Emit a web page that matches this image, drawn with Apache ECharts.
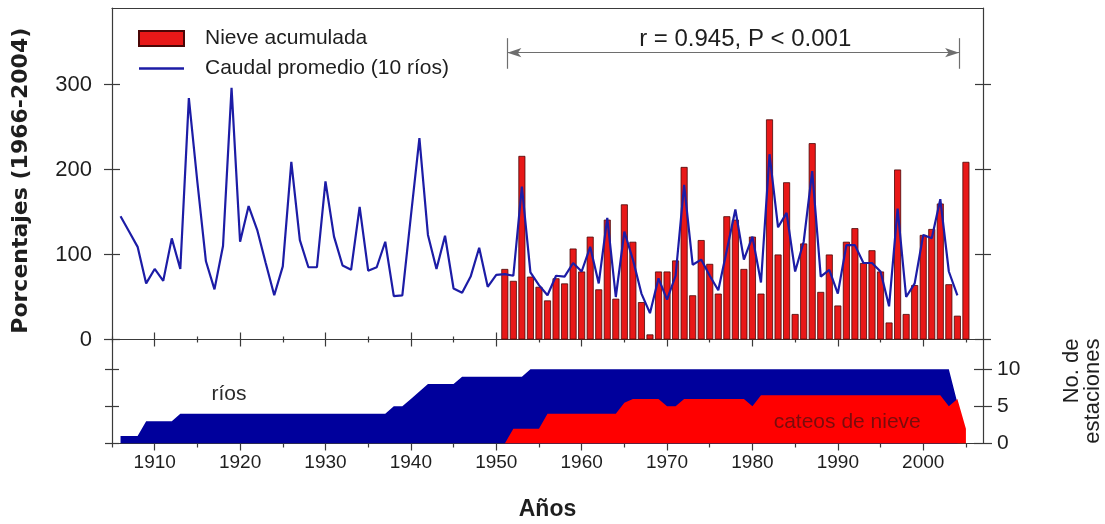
<!DOCTYPE html>
<html>
<head>
<meta charset="utf-8">
<script src="https://cdn.jsdelivr.net/npm/echarts@6/dist/echarts.min.js"></script>
<style>
  html, body { margin: 0; padding: 0; background: #ffffff; }
  #chart { width: 1105px; height: 524px; }
</style>
</head>
<body>
<div id="chart"></div>
<script>
// Caudal promedio (10 ríos), % of 1966-2004 mean, one value per year from 1906
const caudalStartYear = 1906;
const caudal = [
  145, 127, 109, 66, 83, 69, 119, 83, 284, 185,
  92, 59, 110, 296, 115, 157, 129, 90, 52, 86,
  209, 117, 85, 85, 186, 121, 87, 82, 156, 81,
  85, 115, 51, 52, 145, 237, 123, 83, 122, 60,
  55, 74, 108, 62, 76, 77, 75, 180, 79, 64,
  52, 75, 74, 90, 80, 109, 66, 143, 50, 127,
  94, 54, 31, 72, 47, 75, 182, 88, 94, 75,
  58, 105, 153, 94, 121, 67, 218, 132, 149, 80,
  115, 198, 74, 82, 54, 111, 111, 90, 90, 80,
  39, 154, 50, 66, 123, 119, 165, 80, 52
];

// Nieve acumulada, % of 1966-2004 mean, one value per year from 1951
const nieveStartYear = 1951;
const nieve = [
  83, 69, 216, 74, 62, 46, 72, 66, 107, 80,
  121, 59, 141, 48, 159, 115, 44, 6, 80, 80,
  93, 203, 52, 117, 89, 54, 145, 141, 83, 121,
  54, 259, 100, 185, 30, 113, 231, 56, 100, 40,
  115, 131, 90, 105, 80, 20, 200, 30, 64, 123,
  130, 160, 65, 28, 209
];

// Number of stations in operation per year
const riosStartYear = 1906;
const riosStations = [
  1, 1, 1, 3, 3, 3, 3, 4, 4, 4,
  4, 4, 4, 4, 4, 4, 4, 4, 4, 4,
  4, 4, 4, 4, 4, 4, 4, 4, 4, 4,
  4, 4, 5, 5, 6, 7, 8, 8, 8, 8,
  9, 9, 9, 9, 9, 9, 9, 9, 10, 10,
  10, 10, 10, 10, 10, 10, 10, 10, 10, 10,
  10, 10, 10, 10, 10, 10, 10, 10, 10, 10,
  10, 10, 10, 10, 10, 10, 10, 10, 10, 10,
  10, 10, 10, 10, 10, 10, 10, 10, 10, 10,
  10, 10, 10, 10, 10, 10, 10, 10, 5.5
];
const cateosStartYear = 1951;
const cateosStations = [
  0, 2, 2, 2, 2, 4, 4, 4, 4, 4,
  4, 4, 4, 4, 5.5, 6, 6, 6, 6, 5,
  5, 6, 6, 6, 6, 6, 6, 6, 6, 5,
  6.5, 6.5, 6.5, 6.5, 6.5, 6.5, 6.5, 6.5, 6.5, 6.5,
  6.5, 6.5, 6.5, 6.5, 6.5, 6.5, 6.5, 6.5, 6.5, 6.5,
  6.5, 6.5, 5, 6, 2
];

// Axis ticks and labels
const decadeTicks = [1910, 1920, 1930, 1940, 1950, 1960, 1970, 1980, 1990, 2000];
const halfDecadeTicks = [1905, 1915, 1925, 1935, 1945, 1955, 1965, 1975, 1985, 1995, 2005];
const pctTicks = [0, 100, 200, 300];
const stationTicks = [0, 5, 10];

const yearMin = 1905, yearMax = 2007;
const pctMax = 390, stationMax = 14;

const correlationText = 'r = 0.945, P < 0.001';
const corrSpan = [1951.3, 2004.2];
const corrLevel = 337.5;

const toPairs = (start, arr) => arr.map((v, i) => [start + i, v]);

const textColor = '#1e1e1e';
const axisColor = '#3a3a3a';
const font = 'Liberation Sans, Arial, sans-serif';

function xAxisBase(gridIndex, extra) {
  return Object.assign({
    type: 'value', gridIndex, min: yearMin, max: yearMax,
    splitLine: { show: false },
    axisLine: { show: false, lineStyle: { color: axisColor, width: 1.2 } },
    axisTick: { show: false },
    axisLabel: { show: false }
  }, extra);
}
function yAxisBase(gridIndex, max, position, extra) {
  return Object.assign({
    type: 'value', gridIndex, min: 0, max, position,
    splitLine: { show: false },
    axisLine: { show: false, lineStyle: { color: axisColor, width: 1.2 } },
    axisTick: { show: false },
    axisLabel: { show: false }
  }, extra);
}
const tick = (values, inside, length) => ({
  show: true, customValues: values, inside, length,
  lineStyle: { color: axisColor, width: 1.2 }
});
const solidLine = { show: true, lineStyle: { color: axisColor, width: 1.2 } };

const chart = echarts.init(document.getElementById('chart'), null, { renderer: 'canvas' });

const option = {
  animation: false,
  backgroundColor: '#ffffff',
  textStyle: { fontFamily: font },
  grid: [
    { left: 112, top: 8, width: 871, height: 331.5, outerBoundsMode: 'none', containLabel: false },
    { left: 112, top: 339.5, width: 871, height: 104, outerBoundsMode: 'none', containLabel: false }
  ],
  legend: {
    orient: 'vertical', left: 138, top: 28, padding: 0,
    itemWidth: 45, itemHeight: 15, itemGap: 9,
    selectedMode: false,
    symbolKeepAspect: true,
    textStyle: { fontSize: 21, color: textColor, fontFamily: font, padding: [0, 0, 0, 16] },
    data: [
      { name: 'Nieve acumulada', icon: 'rect' },
      { name: 'Caudal promedio (10 ríos)', icon: 'path://M0,0 H45 V2.4 H0 Z' }
    ]
  },
  xAxis: [
    // upper panel: bottom line with ticks crossing it
    xAxisBase(0, { position: 'bottom', axisLine: solidLine, axisTick: tick(decadeTicks, true, 7) }),
    xAxisBase(0, { position: 'bottom', axisTick: tick(decadeTicks, false, 7) }),
    xAxisBase(0, { position: 'bottom', axisTick: tick(halfDecadeTicks, true, 3) }),
    xAxisBase(0, { position: 'bottom', axisTick: tick(halfDecadeTicks, false, 3) }),
    // upper panel frame top
    xAxisBase(0, { position: 'top', axisLine: solidLine }),
    // lower panel: year axis
    xAxisBase(1, {
      position: 'bottom',
      axisLine: solidLine,
      axisTick: tick(decadeTicks, false, 7),
      axisLabel: {
        show: true, customValues: decadeTicks, fontSize: 19, color: textColor, margin: 10, fontFamily: font,
        formatter: (v) => String(v)
      },
      name: 'Años', nameLocation: 'middle', nameGap: 55,
      nameTextStyle: { fontSize: 23, fontWeight: 'bold', color: textColor, fontFamily: font }
    }),
    xAxisBase(1, { position: 'bottom', axisTick: tick(halfDecadeTicks, false, 4) })
  ],
  yAxis: [
    // upper panel left
    yAxisBase(0, pctMax, 'left', {
      axisLine: solidLine,
      axisTick: tick(pctTicks, true, 8),
      axisLabel: { show: true, customValues: pctTicks, fontSize: 22, color: textColor, margin: 20, fontFamily: font },
      name: 'Porcentajes (1966-2004)', nameLocation: 'middle', nameGap: 80, nameRotate: 90,
      nameTextStyle: { fontSize: 22, fontWeight: 'bold', color: textColor, fontFamily: 'DejaVu Sans', padding: [0, 14, 0, 0] }
    }),
    yAxisBase(0, pctMax, 'left', { axisTick: tick(pctTicks, false, 8) }),
    // upper panel right
    yAxisBase(0, pctMax, 'right', { axisLine: solidLine, axisTick: tick(pctTicks, true, 8) }),
    yAxisBase(0, pctMax, 'right', { axisTick: tick(pctTicks, false, 8) }),
    // lower panel left
    yAxisBase(1, stationMax, 'left', { axisLine: solidLine, axisTick: tick(stationTicks, true, 7) }),
    yAxisBase(1, stationMax, 'left', { axisTick: tick(stationTicks, false, 7) }),
    // lower panel right: station count
    yAxisBase(1, stationMax, 'right', {
      axisLine: solidLine,
      axisTick: tick(stationTicks, true, 9),
      axisLabel: { show: true, customValues: stationTicks, fontSize: 21, color: textColor, margin: 14, fontFamily: font },
      name: '{t|No. de}\n{t|estaciones}', nameLocation: 'middle', nameGap: 78, nameRotate: 90,
      nameTextStyle: {
        color: textColor, fontFamily: font,
        rich: { t: { fontSize: 22, lineHeight: 21, width: 106, align: 'right', color: textColor, fontFamily: font } }
      }
    }),
    yAxisBase(1, stationMax, 'right', { axisTick: tick(stationTicks, false, 9) })
  ],
  series: [
    {
      name: 'Nieve acumulada', type: 'bar',
      xAxisIndex: 0, yAxisIndex: 0,
      barWidth: 7,
      itemStyle: { color: '#e81818', borderColor: '#4a0606', borderWidth: 0.8 },
      data: toPairs(nieveStartYear, nieve)
    },
    {
      name: 'Caudal promedio (10 ríos)', type: 'line',
      xAxisIndex: 0, yAxisIndex: 0,
      symbol: 'none', smooth: false,
      lineStyle: { color: '#1c1ca6', width: 2.2 },
      itemStyle: { color: '#1c1ca6' },
      data: toPairs(caudalStartYear, caudal),
      markLine: {
        silent: true, animation: false,
        lineStyle: { color: '#6e6e6e', width: 1.2, type: 'solid' },
        symbol: ['arrow', 'arrow'], symbolSize: [7, 14],
        label: { show: false },
        data: [
          [
            { coord: [corrSpan[0], corrLevel] },
            { coord: [corrSpan[1], corrLevel],
              label: { show: true, position: 'middle', formatter: correlationText, fontSize: 24, color: textColor,
                       distance: 1, padding: [0, 0, 0, 24], fontFamily: font } }
          ],
          [
            { coord: [corrSpan[0], corrLevel + 17], symbol: 'none' },
            { coord: [corrSpan[0], corrLevel - 19], symbol: 'none' }
          ],
          [
            { coord: [corrSpan[1], corrLevel + 17], symbol: 'none' },
            { coord: [corrSpan[1], corrLevel - 19], symbol: 'none' }
          ]
        ]
      }
    },
    {
      name: 'ríos', type: 'line',
      xAxisIndex: 5, yAxisIndex: 4,
      symbol: 'none',
      lineStyle: { width: 0 },
      areaStyle: { color: '#00009c', opacity: 1 },
      data: toPairs(riosStartYear, riosStations),
      markPoint: {
        silent: true, symbol: 'circle', symbolSize: 0,
        label: { show: true, position: 'inside', fontSize: 21, color: '#2a2a2a', fontFamily: font, formatter: 'ríos' },
        data: [{ coord: [1918.7, 6.6] }]
      }
    },
    {
      name: 'cateos de nieve', type: 'line',
      xAxisIndex: 5, yAxisIndex: 4,
      symbol: 'none',
      lineStyle: { width: 0 },
      areaStyle: { color: '#ff0000', opacity: 1 },
      data: toPairs(cateosStartYear, cateosStations),
      markPoint: {
        silent: true, symbol: 'circle', symbolSize: 0,
        label: { show: true, position: 'inside', fontSize: 21, color: '#7a0c0c', fontFamily: font, formatter: 'cateos de nieve' },
        data: [{ coord: [1991.1, 2.9] }]
      }
    }
  ]
};

chart.setOption(option);
</script>
</body>
</html>
